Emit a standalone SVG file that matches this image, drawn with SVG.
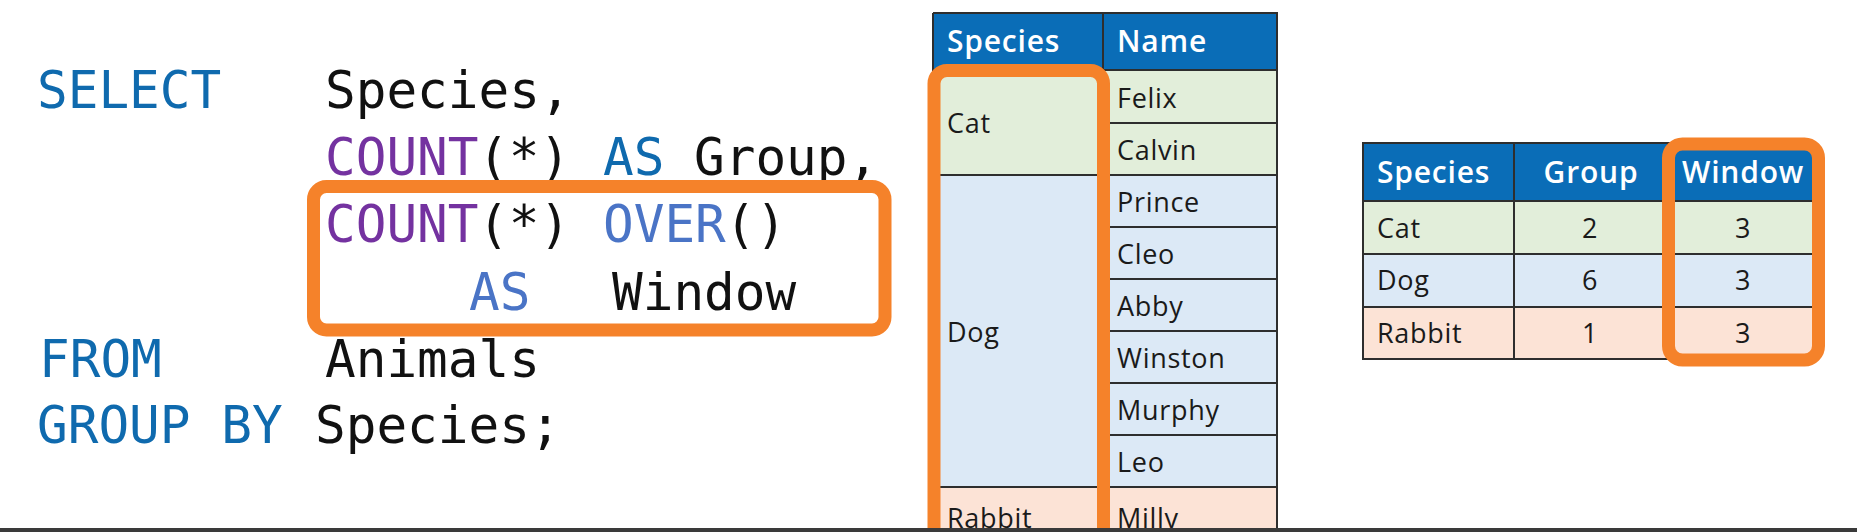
<svg xmlns="http://www.w3.org/2000/svg" width="1857" height="532" viewBox="0 0 1857 532">
<style>
.code{font-family:"DejaVu Sans Mono","Liberation Mono",monospace;font-size:51px;}
.kw{fill:#0F6AAE;}
.fn{fill:#7432A0;}
.kw2{fill:#4A74C6;}
.tx{fill:#111;}
.hd{font-family:"Open Sans","Noto Sans",sans-serif;font-size:30px;font-weight:600;fill:#fff;letter-spacing:0.8px;}
.bd{font-family:"Open Sans","Noto Sans",sans-serif;font-size:27px;fill:#1a1a1a;letter-spacing:0.7px;}
.ln{stroke:#2e2e2e;stroke-width:2;fill:none;}
.hl{fill:none;stroke:#F5822A;stroke-width:13;}
.hdr{fill:#0A6DB7;}
.g{fill:#E2EEDA;}
.b{fill:#DCE9F6;}
.p{fill:#FCE3D6;}
</style>
<rect width="1857" height="532" fill="#fff"/>

<g id="sql-code">
  <text class="code kw" x="37" y="108">SELECT</text>
  <text class="code tx" x="325" y="108">Species,</text>
  <text class="code fn" x="325" y="175">COUNT</text>
  <text class="code tx" x="478" y="175">(*)</text>
  <text class="code kw" x="603" y="175">AS</text>
  <text class="code tx" x="694" y="175">Group,</text>
  <text class="code fn" x="325" y="242">COUNT</text>
  <text class="code tx" x="478" y="242">(*)</text>
  <text class="code kw2" x="603" y="242">OVER</text>
  <text class="code tx" x="725" y="242">()</text>
  <text class="code kw2" x="469" y="310">AS</text>
  <text class="code tx" x="612" y="310">Window</text>
  <text class="code kw" x="39" y="377">FROM</text>
  <text class="code tx" x="325" y="377">Animals</text>
  <text class="code kw" x="37" y="443">GROUP BY</text>
  <text class="code tx" x="315" y="443">Species;</text>
</g>
<g id="code-highlight">
  <rect class="hl" x="313.5" y="186.5" width="571.5" height="143.5" rx="13"/>
</g>

<g id="animals-table">
  <rect class="hdr" x="933" y="13" width="344" height="57"/>
  <rect class="g" x="933" y="70" width="344" height="105"/>
  <rect class="b" x="933" y="175" width="344" height="312"/>
  <rect class="p" x="933" y="487" width="344" height="60"/>
  <path class="ln" d="M933 13H1277V540M933 13V540M1103 13V540M933 70H1277M1103 123H1277M933 175H1277M1103 227H1277M1103 279H1277M1103 331H1277M1103 383H1277M1103 435H1277M933 487H1277"/>
  <text class="hd" x="947" y="52">Species</text>
  <text class="hd" x="1117" y="52">Name</text>
  <text class="bd" x="947" y="133">Cat</text>
  <text class="bd" x="947" y="342">Dog</text>
  <text class="bd" x="947" y="528">Rabbit</text>
  <text class="bd" x="1117" y="108">Felix</text>
  <text class="bd" x="1117" y="160">Calvin</text>
  <text class="bd" x="1117" y="212">Prince</text>
  <text class="bd" x="1117" y="264">Cleo</text>
  <text class="bd" x="1117" y="316">Abby</text>
  <text class="bd" x="1117" y="368">Winston</text>
  <text class="bd" x="1117" y="420">Murphy</text>
  <text class="bd" x="1117" y="472">Leo</text>
  <text class="bd" x="1117" y="528">Milly</text>
  <rect class="hl" x="934" y="70.5" width="169.5" height="520" rx="13"/>
</g>

<g id="result-table">
  <rect class="hdr" x="1363" y="143" width="452" height="58"/>
  <rect class="g" x="1363" y="201" width="452" height="53"/>
  <rect class="b" x="1363" y="254" width="452" height="53"/>
  <rect class="p" x="1363" y="307" width="452" height="52"/>
  <path class="ln" d="M1363 143H1815V359H1363Z M1514 143V359M1668 143V359M1363 201H1815M1363 254H1815M1363 307H1815"/>
  <text class="hd" x="1377" y="183">Species</text>
  <text class="hd" x="1591" y="183" text-anchor="middle">Group</text>
  <text class="hd" x="1743" y="183" text-anchor="middle">Window</text>
  <text class="bd" x="1377" y="238">Cat</text>
  <text class="bd" x="1377" y="290">Dog</text>
  <text class="bd" x="1377" y="343">Rabbit</text>
  <text class="bd" x="1590" y="238" text-anchor="middle">2</text>
  <text class="bd" x="1590" y="290" text-anchor="middle">6</text>
  <text class="bd" x="1590" y="343" text-anchor="middle">1</text>
  <text class="bd" x="1743" y="238" text-anchor="middle">3</text>
  <text class="bd" x="1743" y="290" text-anchor="middle">3</text>
  <text class="bd" x="1743" y="343" text-anchor="middle">3</text>
  <rect class="hl" x="1668.5" y="144" width="150" height="216" rx="14"/>
</g>

<rect id="bottom-bar" x="0" y="528" width="1857" height="4" fill="#3a3a3a"/>
</svg>
